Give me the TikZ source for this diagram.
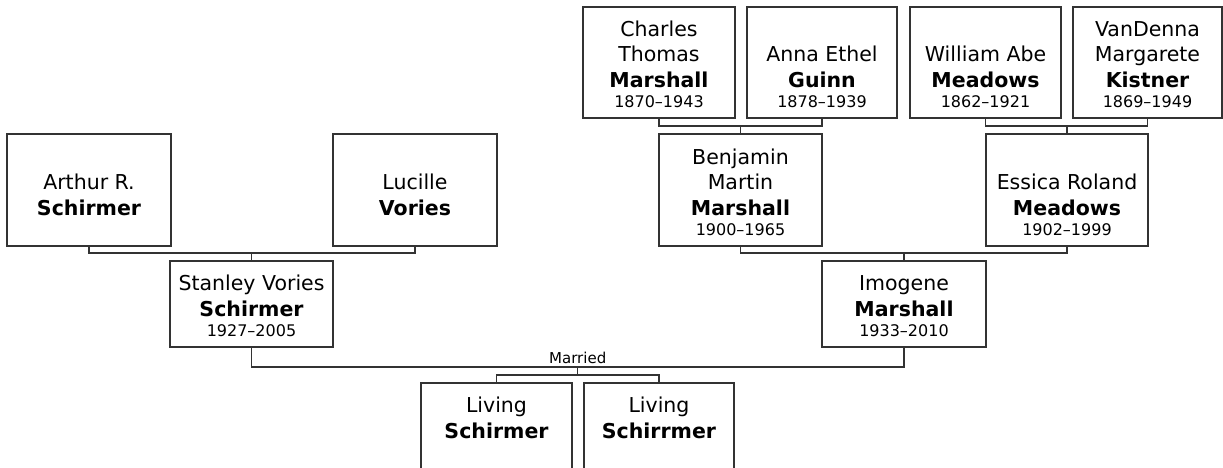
\documentclass[tikz,border=0pt]{standalone}
\usepackage{fontspec}
\setmainfont{DejaVu Sans}
\usetikzlibrary{calc}
\definecolor{linec}{RGB}{51,51,51}
\newcommand{\yrs}[1]{{\fontsize{16}{16}\selectfont #1}}
\newcommand{\noyr}{\yrs{\phantom{0}}}
\begin{document}
\begin{tikzpicture}[x=1pt,y=-1pt,
  personbox/.style={draw=linec, line width=1.3pt, rectangle, inner sep=0pt, outer sep=0pt},
  persontext/.style={align=center, inner sep=0pt, anchor=south, font=\fontsize{20.5}{25.5}\selectfont},
  conn/.style={draw=linec, line width=1.3pt},
  marriedlbl/.style={font=\fontsize{15}{15}\selectfont, inner sep=0pt, anchor=base}]
\useasboundingbox (0,0) rectangle (1223,468);
\clip (0,0) rectangle (1223,468);
% boxes
\node[personbox, minimum width=152pt, minimum height=111pt] (charles) at (659,62.5) {};
\node[personbox, minimum width=150pt, minimum height=111pt] (anna) at (822,62.5) {};
\node[personbox, minimum width=151pt, minimum height=111pt] (william) at (985.5,62.5) {};
\node[personbox, minimum width=149pt, minimum height=111pt] (vandenna) at (1147.5,62.5) {};
\node[personbox, minimum width=164pt, minimum height=112pt] (arthur) at (89,190) {};
\node[personbox, minimum width=164pt, minimum height=112pt] (lucille) at (415,190) {};
\node[personbox, minimum width=163pt, minimum height=112pt] (benjamin) at (740.5,190) {};
\node[personbox, minimum width=162pt, minimum height=112pt] (essica) at (1067,190) {};
\node[personbox, minimum width=163pt, minimum height=86pt] (stanley) at (251.5,304) {};
\node[personbox, minimum width=164pt, minimum height=86pt] (imogene) at (904,304) {};
\node[personbox, minimum width=151pt, minimum height=86pt] (living1) at (496.5,426) {};
\node[personbox, minimum width=150pt, minimum height=86pt] (living2) at (659,426) {};
% texts
\node[persontext] (charles-t) at ([yshift=10.5pt]charles.south) {Charles\\Thomas\\\textbf{Marshall}\\[-5.5pt]\yrs{1870–1943}};
\node[persontext] (anna-t) at ([yshift=10.5pt]anna.south) {Anna Ethel\\\textbf{Guinn}\\[-5.5pt]\yrs{1878–1939}};
\node[persontext] (william-t) at ([yshift=10.5pt]william.south) {William Abe\\\textbf{Meadows}\\[-5.5pt]\yrs{1862–1921}};
\node[persontext] (vandenna-t) at ([yshift=10.5pt]vandenna.south) {VanDenna\\Margarete\\\textbf{Kistner}\\[-5.5pt]\yrs{1869–1949}};
\node[persontext] (arthur-t) at ([yshift=10.5pt]arthur.south) {Arthur R.\\\textbf{Schirmer}\\[-5.5pt]\noyr};
\node[persontext] (lucille-t) at ([yshift=10.5pt]lucille.south) {Lucille\\\textbf{Vories}\\[-5.5pt]\noyr};
\node[persontext] (benjamin-t) at ([yshift=10.5pt]benjamin.south) {Benjamin\\Martin\\\textbf{Marshall}\\[-5.5pt]\yrs{1900–1965}};
\node[persontext] (essica-t) at ([yshift=10.5pt]essica.south) {Essica Roland\\\textbf{Meadows}\\[-5.5pt]\yrs{1902–1999}};
\node[persontext] (stanley-t) at ([yshift=10.5pt]stanley.south) {Stanley Vories\\\textbf{Schirmer}\\[-5.5pt]\yrs{1927–2005}};
\node[persontext] (imogene-t) at ([yshift=10.5pt]imogene.south) {Imogene\\\textbf{Marshall}\\[-5.5pt]\yrs{1933–2010}};
\node[persontext] (living1-t) at ([yshift=10.5pt]living1.south) {Living\\\textbf{Schirmer}\\[-5.5pt]\noyr};
\node[persontext] (living2-t) at ([yshift=10.5pt]living2.south) {Living\\\textbf{Schirrmer}\\[-5.5pt]\noyr};
% connectors
\draw[conn] (charles.south) -- ++(0,8) -| (anna.south);
\draw[conn] (benjamin.north) -- ++(0,-8);
\draw[conn] (william.south) -- ++(0,8) -| (vandenna.south);
\draw[conn] (essica.north) -- ++(0,-8);
\draw[conn] (arthur.south) -- ++(0,7) -| (lucille.south);
\draw[conn] (stanley.north) -- ++(0,-8);
\draw[conn] (benjamin.south) -- ++(0,7) -| (essica.south);
\draw[conn] (imogene.north) -- ++(0,-8);
\draw[conn] (stanley.south) -- ++(0,20) -| (imogene.south);
\coordinate (mar) at ($(stanley.south)!0.5!(imogene.south)+(0,20)$);
\node[marriedlbl] (married) at ([yshift=4pt]mar) {Married};
\draw[conn] (mar) -- ++(0,8);
\draw[conn] (living1.north) -- ++(0,-8) -| (living2.north);
\end{tikzpicture}
\end{document}
